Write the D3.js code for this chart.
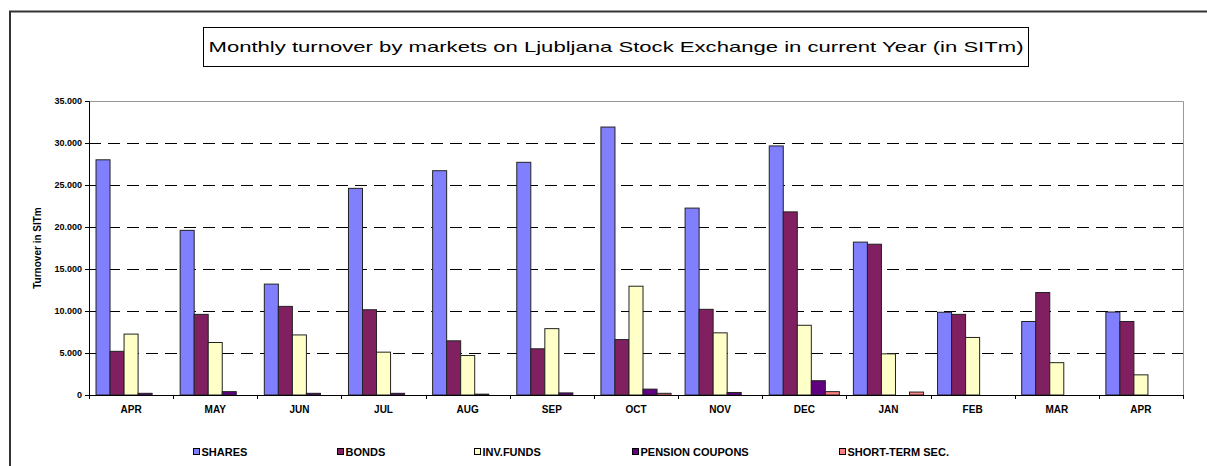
<!DOCTYPE html>
<html>
<head>
<meta charset="utf-8">
<script src="https://cdn.jsdelivr.net/npm/d3@7"></script>
<style>
  body { margin: 0; background: #fff; }
  text { font-family: "Liberation Sans", Arial, sans-serif; }
</style>
</head>
<body>
<div id="chart"></div>
<script>
(function() {
  // months on the category axis (first and last are both APR)
  var months = ["APR", "MAY", "JUN", "JUL", "AUG", "SEP", "OCT", "NOV", "DEC", "JAN", "FEB", "MAR", "APR"];

  // turnover per market, SIT million
  var shares    = [28000, 19600, 13200, 24600, 26700, 27700, 31900, 22250, 29650, 18200, 9850, 8750, 9880];
  var bonds     = [5200, 9600, 10550, 10150, 6450, 5500, 6600, 10200, 21800, 17950, 9600, 12200, 8750];
  var invFunds  = [7250, 6250, 7150, 5100, 4700, 7900, 12950, 7400, 8300, 4900, 6850, 3850, 2400];
  var pension   = [200, 400, 200, 200, 100, 250, 700, 300, 1700, 0, 0, 0, 0];
  var shortTerm = [0, 0, 0, 0, 0, 0, 200, 0, 400, 350, 0, 0, 0];

  var seriesNames = ["SHARES", "BONDS", "INV.FUNDS", "PENSION COUPONS", "SHORT-TERM SEC."];
  var seriesValues = [shares, bonds, invFunds, pension, shortTerm];
  var colors = ["#8080ff", "#802060", "#ffffc8", "#600080", "#ff8080"];

  var yTicks = [0, 5000, 10000, 15000, 20000, 25000, 30000, 35000];

  var W = 1207, H = 466;
  var plot = { left: 89, right: 1183, top: 101, bottom: 395 };

  var svg = d3.select("#chart")
    .append("svg")
    .attr("width", W)
    .attr("height", H);

  // outer frame (only top and left edges are inside the picture)
  svg.append("path")
    .attr("d", "M10,466 L10,11.5 L1207,11.5")
    .attr("fill", "none")
    .attr("stroke", "#333")
    .attr("stroke-width", 2);

  // title box
  svg.append("rect")
    .attr("x", 203.5).attr("y", 27.5)
    .attr("width", 825).attr("height", 39)
    .attr("fill", "#fff")
    .attr("stroke", "#000")
    .attr("stroke-width", 1);

  svg.append("text")
    .attr("x", 616).attr("y", 52)
    .attr("text-anchor", "middle")
    .attr("textLength", 815)
    .attr("lengthAdjust", "spacingAndGlyphs")
    .style("font-size", "15px")
    .text("Monthly turnover by markets on Ljubljana Stock Exchange in current Year (in SITm)");

  var idx = months.map(function(d, i) { return i; });

  var x = d3.scaleBand()
    .domain(idx)
    .range([plot.left, plot.right])
    .padding(0);

  var xInner = d3.scaleBand()
    .domain(d3.range(seriesNames.length))
    .range([0, x.bandwidth()])
    .paddingInner(0)
    .paddingOuter(0.5);

  var y = d3.scaleLinear()
    .domain([0, 35000])
    .range([plot.bottom, plot.top]);

  var fmt = d3.formatLocale({ decimal: ",", thousands: ".", grouping: [3], currency: ["", ""] }).format(",");

  // plot area border (top / right)
  svg.append("path")
    .attr("d", "M" + plot.left + "," + (plot.top + 0.5) + " L" + (plot.right + 0.5) + "," + (plot.top + 0.5) + " L" + (plot.right + 0.5) + "," + plot.bottom)
    .attr("fill", "none")
    .attr("stroke", "#999")
    .attr("stroke-width", 1);

  // dashed gridlines
  svg.append("g")
    .selectAll("line")
    .data(yTicks.filter(function(d) { return d > 0 && d < 35000; }))
    .enter().append("line")
    .attr("x1", plot.left)
    .attr("x2", plot.right)
    .attr("y1", function(d) { return Math.round(y(d)) + 0.5; })
    .attr("y2", function(d) { return Math.round(y(d)) + 0.5; })
    .attr("stroke", "#000")
    .attr("stroke-dasharray", "12,7");

  // bars
  var groups = svg.append("g")
    .selectAll("g")
    .data(seriesValues)
    .enter().append("g")
    .attr("fill", function(d, i) { return colors[i]; });

  groups.each(function(vals, si) {
    d3.select(this).selectAll("rect")
      .data(vals.map(function(v, mi) { return { m: mi, v: v }; }).filter(function(d) { return d.v > 0; }))
      .enter().append("rect")
      .attr("x", function(d) { return x(d.m) + xInner(si); })
      .attr("y", function(d) { return y(d.v); })
      .attr("width", xInner.bandwidth())
      .attr("height", function(d) { return y(0) - y(d.v); })
      .attr("stroke", "#222")
      .attr("stroke-width", 1);
  });

  // y axis
  var yAxis = d3.axisLeft(y)
    .tickValues(yTicks)
    .tickSize(4)
    .tickPadding(3)
    .tickFormat(fmt);

  var yg = svg.append("g")
    .attr("transform", "translate(" + plot.left + ",0)")
    .call(yAxis);
  yg.select(".domain").attr("stroke", "#000");
  yg.selectAll("text")
    .style("font-size", "9px")
    .style("font-weight", "bold")
    .attr("fill", "#000");

  svg.append("text")
    .attr("transform", "translate(41," + ((plot.top + plot.bottom) / 2) + ") rotate(-90)")
    .attr("text-anchor", "middle")
    .style("font-size", "10px")
    .style("font-weight", "bold")
    .text("Turnover in SITm");

  // x axis: labels centred, ticks on category boundaries
  var xAxis = d3.axisBottom(x)
    .tickSize(0)
    .tickPadding(11)
    .tickFormat(function(i) { return months[i]; });

  var xg = svg.append("g")
    .attr("transform", "translate(0," + plot.bottom + ")")
    .call(xAxis);
  xg.select(".domain").remove();
  xg.selectAll("text")
    .style("font-size", "10px")
    .style("font-weight", "bold")
    .attr("fill", "#000");

  svg.append("line")
    .attr("x1", plot.left).attr("x2", plot.right + 1)
    .attr("y1", plot.bottom + 0.5).attr("y2", plot.bottom + 0.5)
    .attr("stroke", "#000");

  svg.append("g")
    .selectAll("line")
    .data(d3.range(months.length + 1))
    .enter().append("line")
    .attr("x1", function(i) { return Math.round(plot.left + i * x.step()) + 0.5; })
    .attr("x2", function(i) { return Math.round(plot.left + i * x.step()) + 0.5; })
    .attr("y1", plot.bottom)
    .attr("y2", plot.bottom + 4)
    .attr("stroke", "#000");

  // legend
  var legendX = [193, 337, 474, 632, 839];
  var legend = svg.append("g")
    .selectAll("g")
    .data(seriesNames)
    .enter().append("g")
    .attr("transform", function(d, i) { return "translate(" + legendX[i] + ",448)"; });

  legend.append("rect")
    .attr("x", 0.5).attr("y", 0.5)
    .attr("width", 6).attr("height", 6)
    .attr("fill", function(d, i) { return colors[i]; })
    .attr("stroke", "#000");

  legend.append("text")
    .attr("x", 8.5)
    .attr("y", 7.5)
    .style("font-size", "11px")
    .style("font-weight", "bold")
    .text(function(d) { return d; });
})();
</script>
</body>
</html>
